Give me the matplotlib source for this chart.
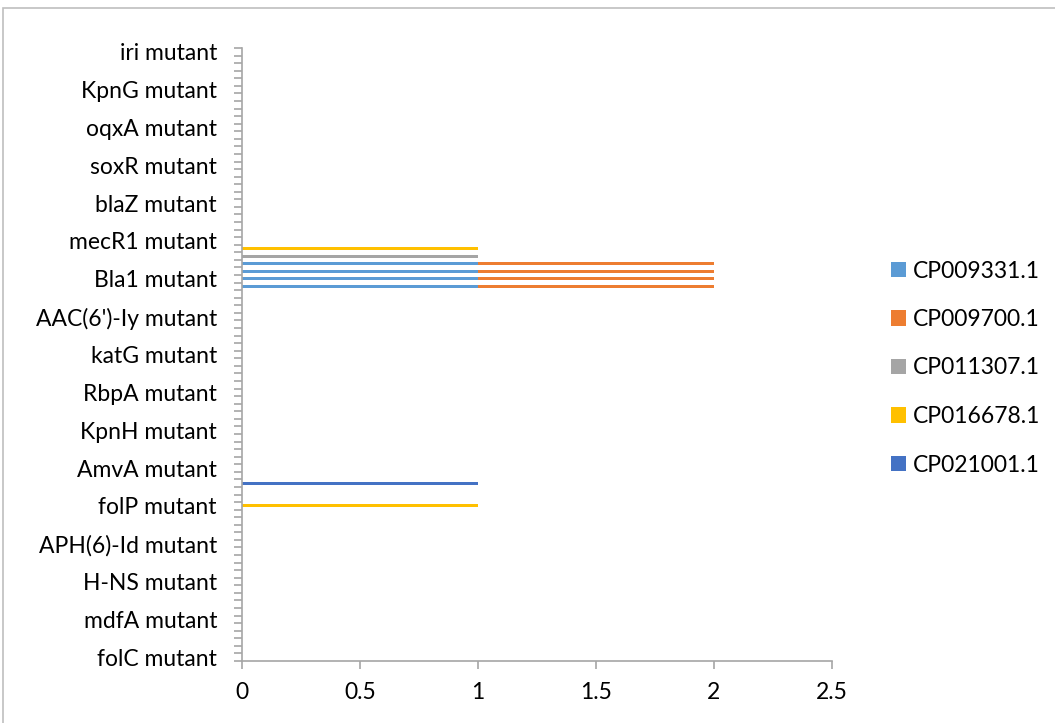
import matplotlib.pyplot as plt
from matplotlib.patches import Rectangle

# 81 categories on the y axis, only every 5th one is labelled
n_rows = 81
label_rows = [1, 6, 11, 16, 21, 26, 31, 36, 41, 46, 51, 56, 61, 66, 71, 76, 81]
label_names = ["folC mutant", "mdfA mutant", "H-NS mutant", "APH(6)-Id mutant",
               "folP mutant", "AmvA mutant", "KpnH mutant", "RbpA mutant",
               "katG mutant", "AAC(6')-Iy mutant", "Bla1 mutant", "mecR1 mutant",
               "blaZ mutant", "soxR mutant", "oqxA mutant", "KpnG mutant", "iri mutant"]

series_names = ["CP009331.1", "CP009700.1", "CP011307.1", "CP016678.1", "CP021001.1"]
colors = ["#5B9BD5", "#ED7D31", "#A5A5A5", "#FFC000", "#4472C4"]

# non-zero cells: row number -> value
cp009331 = {50: 1, 51: 1, 52: 1, 53: 1}
cp009700 = {50: 1, 51: 1, 52: 1, 53: 1}
cp011307 = {54: 1}
cp016678 = {55: 1, 21: 1}
cp021001 = {24: 1}
series_vals = [cp009331, cp009700, cp011307, cp016678, cp021001]

rows = list(range(1, n_rows + 1))

plt.rcParams['font.family'] = ['Lato', 'DejaVu Sans']
fs = 16.5
fig = plt.figure(figsize=(10.55, 7.23), dpi=100)
ax = fig.add_axes([242 / 1055, 1 - 661 / 723, 590 / 1055, 613 / 723])

left = [0] * n_rows
for name, col, vals in zip(series_names, colors, series_vals):
    w = [vals.get(r, 0) for r in rows]
    ax.barh(rows, w, left=left, height=0.4, color=col, label=name)
    left = [a + b for a, b in zip(left, w)]

ax.set_xlim(0, 2.5)
ax.set_ylim(0.5, n_rows + 0.5)
ax.set_xticks([0, 0.5, 1, 1.5, 2, 2.5])
ax.set_xticklabels(["0", "0.5", "1", "1.5", "2", "2.5"])
ax.set_yticks(label_rows)
ax.set_yticklabels(label_names)
ax.set_yticks([r + 0.5 for r in range(0, n_rows + 1)], minor=True)

axis_col = "#A6A6A6"
for s in ["top", "right"]:
    ax.spines[s].set_visible(False)
for s in ["left", "bottom"]:
    ax.spines[s].set_color(axis_col)
    ax.spines[s].set_linewidth(1.2)
ax.tick_params(axis="y", which="major", length=0, pad=18, labelsize=fs, labelcolor="#000000")
ax.tick_params(axis="y", which="minor", length=6, width=1.2, color=axis_col)
ax.tick_params(axis="x", length=6, width=1.2, color=axis_col, pad=9,
               labelsize=fs, labelcolor="#000000")

handles, labels = ax.get_legend_handles_labels()
fig.legend(handles, labels, loc="center left", bbox_to_anchor=(870 / 1055, 1 - 368 / 723),
           frameon=False, fontsize=fs, handlelength=0.65, handleheight=0.65,
           handletextpad=0.3, labelspacing=1.2)

fig.patches.append(Rectangle((3 / 1055, -0.1), 1.2, 1 - 8 / 723 + 0.1, transform=fig.transFigure,
                             fill=False, edgecolor="#BFBFBF", linewidth=1.2))

fig.savefig("out.png", dpi=100)
